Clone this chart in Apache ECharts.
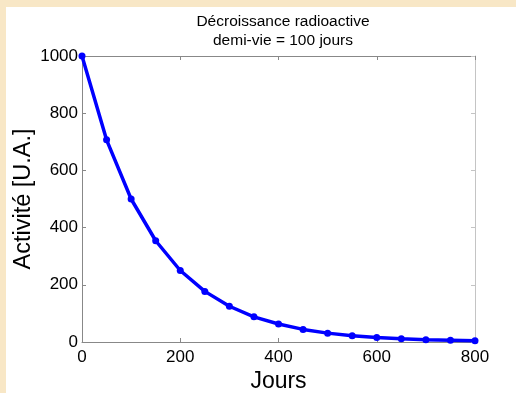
<!DOCTYPE html>
<html>
<head>
<meta charset="utf-8">
<script src="https://cdn.jsdelivr.net/npm/echarts@6/dist/echarts.min.js"></script>
<style>
  html, body { margin: 0; padding: 0; }
  body { width: 516px; height: 393px; background: #f8e7c6; position: relative; overflow: hidden; }
  #chart { position: absolute; left: 6px; top: 7px; width: 510px; height: 386px; background: #fff; }
</style>
</head>
<body>
<div id="chart"></div>
<script>
// days since start, activity
const days = [0, 50, 100, 150, 200, 250, 300, 350, 400, 450, 500, 550, 600, 650, 700, 750, 800];
const activity = [1000, 707, 500, 354, 250, 177, 125, 88, 63, 44, 31, 22, 16, 11, 8, 6, 4];

const chart = echarts.init(document.getElementById('chart'));
const font = 'Liberation Sans, Arial, sans-serif';
const axisGrey = '#888';

const tickStyle = { fontSize: 17, color: '#000', fontFamily: font, formatter: v => String(v) };

chart.setOption({
  animation: false,
  title: {
    text: 'Décroissance radioactive\ndemi-vie = 100 jours',
    left: 272,
    top: 0,
    textAlign: 'center',
    textStyle: { fontSize: 15.5, fontWeight: 'normal', color: '#000', fontFamily: font, lineHeight: 19 }
  },
  grid: { left: 76, right: 41, top: 49, bottom: 51, outerBoundsMode: 'none', containLabel: false },
  xAxis: [
    {
      type: 'value', min: 0, max: 800, interval: 200,
      name: 'Jours', nameLocation: 'middle', nameGap: 28, nameMoveOverlap: false,
      nameTextStyle: { fontSize: 23, color: '#000', fontFamily: font },
      axisLine: { onZero: false, lineStyle: { color: axisGrey, width: 1 } },
      axisTick: { inside: true, length: 4, lineStyle: { color: axisGrey } },
      axisLabel: Object.assign({ margin: 7 }, tickStyle),
      splitLine: { show: false }
    },
    {
      type: 'value', position: 'top', min: 0, max: 800, interval: 200,
      axisLine: { show: true, onZero: false, lineStyle: { color: axisGrey, width: 1 } },
      axisTick: { show: true, inside: true, length: 4, lineStyle: { color: axisGrey } },
      axisLabel: { show: false },
      splitLine: { show: false }
    }
  ],
  yAxis: [
    {
      type: 'value', min: 0, max: 1000, interval: 200,
      name: 'Activité [U.A.]', nameLocation: 'middle', nameGap: 46, nameMoveOverlap: false,
      nameTextStyle: { fontSize: 23.5, color: '#000', fontFamily: font },
      axisLine: { show: true, onZero: false, lineStyle: { color: axisGrey, width: 1 } },
      axisTick: { show: true, inside: true, length: 4, lineStyle: { color: axisGrey } },
      axisLabel: Object.assign({ margin: 4 }, tickStyle),
      splitLine: { show: false }
    },
    {
      type: 'value', position: 'right', min: 0, max: 1000, interval: 200,
      axisLine: { show: true, onZero: false, lineStyle: { color: '#c4c4c4', width: 1 } },
      axisTick: { show: true, inside: true, length: 4, lineStyle: { color: '#c4c4c4' } },
      axisLabel: { show: false },
      splitLine: { show: false }
    }
  ],
  series: [
    {
      type: 'line',
      xAxisIndex: 0,
      yAxisIndex: 0,
      data: days.map((d, i) => [d, activity[i]]),
      symbol: 'circle',
      symbolSize: 7,
      lineStyle: { color: '#0000ff', width: 3.5 },
      itemStyle: { color: '#0000ff' }
    }
  ]
});
</script>
</body>
</html>
